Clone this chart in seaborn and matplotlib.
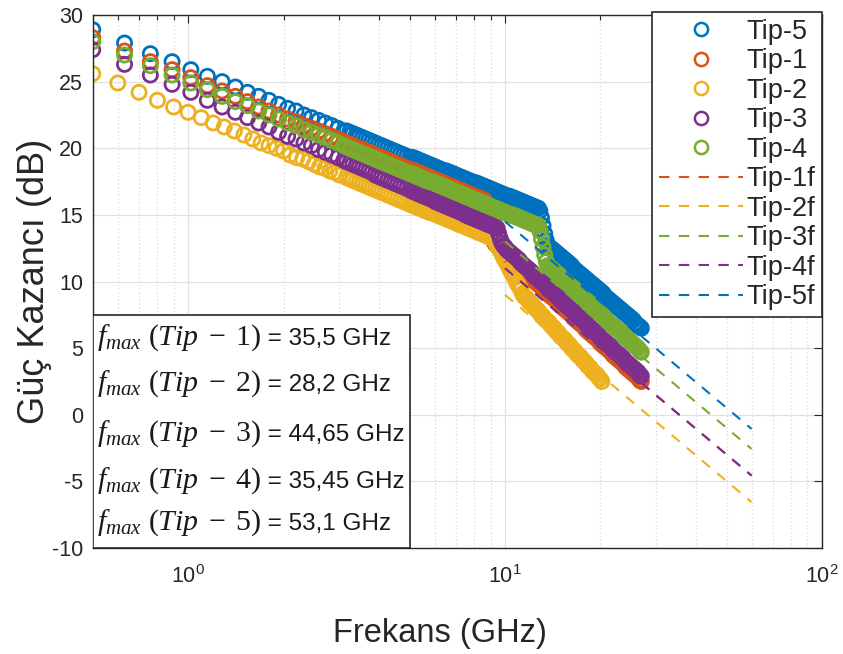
import numpy as np
import matplotlib
matplotlib.use("Agg")
import matplotlib.pyplot as plt
from matplotlib.lines import Line2D
from matplotlib.patches import Rectangle
from matplotlib.ticker import FixedLocator, FixedFormatter, NullFormatter
import seaborn as sns

# Frequency sweep (GHz)
freq_low = [0.50, 0.63, 0.76, 0.89, 1.02, 1.15, 1.28, 1.41, 1.54, 1.67, 1.80, 1.93, 2.06,
            2.19, 2.32, 2.45, 2.58, 2.71, 2.84, 2.97, 3.10]
freq_low_tip2 = [0.5, 0.6, 0.7, 0.8, 0.9, 1.0, 1.1, 1.2, 1.3, 1.4, 1.5, 1.6, 1.7, 1.8, 1.9,
                 2.0, 2.1, 2.2, 2.3, 2.4, 2.5, 2.6, 2.7, 2.8, 2.9, 3.0]
freq_mid = [3.162, 3.236, 3.311, 3.388, 3.467, 3.548, 3.631, 3.715, 3.802, 3.890,
            3.981, 4.074, 4.169, 4.266, 4.365, 4.467, 4.571, 4.677, 4.786, 4.898]
freq_high = [5.012, 5.070, 5.129, 5.188, 5.248, 5.309, 5.370, 5.433, 5.495, 5.559,
             5.623, 5.689, 5.754, 5.821, 5.888, 5.957, 6.026, 6.095, 6.166, 6.237,
             6.310, 6.383, 6.457, 6.531, 6.607, 6.683, 6.761, 6.839, 6.918, 6.998,
             7.079, 7.161, 7.244, 7.328, 7.413, 7.499, 7.586, 7.674, 7.762, 7.852,
             7.943, 8.035, 8.128, 8.222, 8.318, 8.414, 8.511, 8.610, 8.710, 8.810,
             8.913, 9.016, 9.120, 9.226, 9.333, 9.441, 9.550, 9.661, 9.772, 9.886,
             10.00, 10.12, 10.23, 10.35, 10.47, 10.59, 10.72, 10.84, 10.96, 11.09,
             11.22, 11.35, 11.48, 11.61, 11.75, 11.89, 12.02, 12.16, 12.30, 12.45,
             12.59, 12.74, 12.88, 13.03, 13.18, 13.34, 13.49, 13.65, 13.80, 13.96,
             14.13, 14.29, 14.45, 14.62, 14.79, 14.96, 15.14, 15.31, 15.49, 15.67,
             15.85, 16.03, 16.22, 16.41, 16.60, 16.79, 16.98, 17.18, 17.38, 17.58,
             17.78, 17.99, 18.20, 18.41, 18.62, 18.84, 19.05, 19.28, 19.50, 19.72,
             19.95, 20.18, 20.42, 20.65, 20.89, 21.13, 21.38, 21.63, 21.88, 22.13,
             22.39, 22.65, 22.91, 23.17, 23.44, 23.71, 23.99, 24.27, 24.55, 24.83,
             25.12, 25.41, 25.70, 26.00, 26.30, 26.61, 26.92]

freq = freq_low + freq_mid + freq_high
freq_tip2 = freq_low_tip2 + freq_mid + freq_high[:121] + [20.20]

# Power gain (dB)
gain_tip5 = [28.9, 27.9, 27.1, 26.5, 25.9, 25.4, 25.0, 24.6, 24.2, 23.9, 23.6, 23.3, 23.0,
             22.8, 22.5, 22.3, 22.1, 21.9, 21.7, 21.5, 21.3,
             21.3, 21.2, 21.1, 21.0, 20.9, 20.8, 20.7, 20.6, 20.5, 20.4,
             20.3, 20.2, 20.1, 20.0, 19.9, 19.8, 19.7, 19.6, 19.5, 19.4,
             19.3, 19.3, 19.3, 19.2, 19.2, 19.1, 19.1, 19.0, 19.0, 18.9,
             18.9, 18.8, 18.8, 18.7, 18.7, 18.6, 18.6, 18.5, 18.5, 18.4,
             18.4, 18.3, 18.3, 18.3, 18.2, 18.2, 18.1, 18.1, 18.0, 18.0,
             17.9, 17.9, 17.8, 17.8, 17.7, 17.7, 17.6, 17.6, 17.5, 17.5,
             17.4, 17.4, 17.4, 17.3, 17.3, 17.2, 17.2, 17.1, 17.1, 17.0,
             17.0, 16.9, 16.9, 16.8, 16.8, 16.7, 16.7, 16.6, 16.6, 16.5,
             16.5, 16.4, 16.4, 16.4, 16.3, 16.3, 16.2, 16.2, 16.1, 16.1,
             16.0, 16.0, 15.9, 15.9, 15.8, 15.8, 15.7, 15.7, 15.6, 15.6,
             15.5, 15.5, 15.3, 14.8, 14.2, 13.6, 13.1, 12.7, 12.6, 12.5,
             12.4, 12.3, 12.2, 12.1, 12.0, 11.9, 11.8, 11.7, 11.6, 11.5,
             11.4, 11.3, 11.2, 11.0, 10.9, 10.8, 10.7, 10.6, 10.5, 10.4,
             10.3, 10.2, 10.1, 10.0, 9.9, 9.8, 9.7, 9.6, 9.5, 9.4,
             9.3, 9.2, 9.1, 8.9, 8.8, 8.7, 8.6, 8.5, 8.4, 8.3,
             8.2, 8.1, 8.0, 7.9, 7.8, 7.7, 7.6, 7.5, 7.4, 7.3,
             7.2, 7.1, 6.9, 6.8, 6.7, 6.6, 6.5]

gain_tip1 = [28.3, 27.3, 26.5, 25.9, 25.3, 24.7, 24.3, 23.9, 23.5, 23.1, 22.8, 22.5, 22.2,
             22.0, 21.7, 21.5, 21.3, 21.1, 20.9, 20.7, 20.5,
             20.4, 20.3, 20.2, 20.1, 20.0, 19.9, 19.8, 19.7, 19.6, 19.5,
             19.4, 19.3, 19.2, 19.1, 19.0, 18.9, 18.8, 18.7, 18.6, 18.5,
             18.4, 18.4, 18.3, 18.3, 18.2, 18.2, 18.1, 18.1, 18.0, 18.0,
             17.9, 17.9, 17.8, 17.8, 17.7, 17.7, 17.6, 17.6, 17.5, 17.5,
             17.4, 17.4, 17.3, 17.3, 17.2, 17.2, 17.1, 17.1, 17.0, 17.0,
             16.9, 16.9, 16.8, 16.8, 16.7, 16.7, 16.6, 16.6, 16.5, 16.5,
             16.4, 16.4, 16.3, 16.3, 16.2, 16.2, 16.1, 16.1, 15.6, 15.0,
             14.4, 13.8, 13.3, 13.0, 12.8, 12.7, 12.6, 12.5, 12.4, 12.3,
             12.2, 12.0, 11.9, 11.8, 11.7, 11.6, 11.5, 11.4, 11.3, 11.2,
             11.0, 10.9, 10.8, 10.7, 10.6, 10.5, 10.4, 10.3, 10.1, 10.0,
             9.9, 9.8, 9.7, 9.6, 9.5, 9.4, 9.2, 9.1, 9.0, 8.9,
             8.8, 8.7, 8.6, 8.5, 8.4, 8.2, 8.1, 8.0, 7.9, 7.8,
             7.7, 7.6, 7.5, 7.3, 7.2, 7.1, 7.0, 6.9, 6.8, 6.7,
             6.6, 6.4, 6.3, 6.2, 6.1, 6.0, 5.9, 5.8, 5.7, 5.6,
             5.4, 5.3, 5.2, 5.1, 5.0, 4.9, 4.8, 4.7, 4.5, 4.4,
             4.3, 4.2, 4.1, 4.0, 3.9, 3.8, 3.6, 3.5, 3.4, 3.3,
             3.2, 3.1, 3.0, 2.9, 2.8, 2.6, 2.5]

gain_tip2 = [25.6, 24.9, 24.2, 23.6, 23.1, 22.7, 22.3, 21.9, 21.6, 21.3, 21.0, 20.7, 20.4,
             20.2, 20.0, 19.8, 19.5, 19.3, 19.2, 19.0, 18.8, 18.6, 18.5, 18.3, 18.2, 18.0,
             17.8, 17.7, 17.6, 17.5, 17.4, 17.3, 17.2, 17.1, 17.0, 16.9,
             16.8, 16.7, 16.6, 16.5, 16.4, 16.3, 16.2, 16.1, 16.0, 15.9,
             15.8, 15.8, 15.7, 15.7, 15.6, 15.6, 15.5, 15.5, 15.4, 15.4,
             15.3, 15.3, 15.2, 15.2, 15.2, 15.1, 15.1, 15.0, 15.0, 14.9,
             14.9, 14.8, 14.8, 14.7, 14.7, 14.6, 14.6, 14.5, 14.5, 14.4,
             14.4, 14.3, 14.3, 14.2, 14.2, 14.1, 14.1, 14.0, 14.0, 13.9,
             13.9, 13.8, 13.8, 13.7, 13.7, 13.6, 13.6, 13.5, 13.5, 13.4,
             13.4, 13.3, 13.3, 13.2, 13.0, 12.7, 12.5, 12.3, 12.1, 11.8,
             11.6, 11.4, 11.2, 10.9, 10.7, 10.5, 10.3, 10.0, 9.8, 9.6,
             9.4, 9.1, 8.9, 8.8, 8.7, 8.5, 8.4, 8.3, 8.2, 8.0,
             7.9, 7.8, 7.6, 7.5, 7.4, 7.2, 7.1, 7.0, 6.9, 6.7,
             6.6, 6.5, 6.3, 6.2, 6.1, 5.9, 5.8, 5.7, 5.6, 5.4,
             5.3, 5.2, 5.0, 4.9, 4.8, 4.6, 4.5, 4.4, 4.3, 4.1,
             4.0, 3.9, 3.7, 3.6, 3.5, 3.3, 3.2, 3.1, 3.0, 2.8,
             2.7, 2.5]

gain_tip3 = [27.4, 26.3, 25.5, 24.8, 24.2, 23.6, 23.1, 22.7, 22.3, 21.9, 21.6, 21.2, 20.9,
             20.7, 20.4, 20.2, 19.9, 19.7, 19.5, 19.3, 19.1,
             19.0, 18.9, 18.8, 18.7, 18.6, 18.5, 18.4, 18.3, 18.2, 18.0,
             17.9, 17.8, 17.7, 17.6, 17.5, 17.4, 17.3, 17.2, 17.1, 17.0,
             16.9, 16.8, 16.8, 16.7, 16.7, 16.6, 16.6, 16.5, 16.5, 16.4,
             16.4, 16.3, 16.3, 16.2, 16.2, 16.1, 16.0, 16.0, 15.9, 15.9,
             15.8, 15.8, 15.7, 15.7, 15.6, 15.6, 15.5, 15.5, 15.4, 15.4,
             15.3, 15.3, 15.2, 15.2, 15.1, 15.0, 15.0, 14.9, 14.9, 14.8,
             14.8, 14.7, 14.7, 14.6, 14.6, 14.5, 14.5, 14.4, 14.4, 14.3,
             14.3, 14.2, 14.2, 14.1, 14.1, 14.0, 13.6, 13.2, 12.9, 12.7,
             12.6, 12.4, 12.3, 12.2, 12.1, 12.0, 11.9, 11.8, 11.7, 11.6,
             11.4, 11.3, 11.2, 11.1, 11.0, 10.9, 10.8, 10.7, 10.5, 10.4,
             10.3, 10.2, 10.1, 10.0, 9.9, 9.8, 9.7, 9.5, 9.4, 9.3,
             9.2, 9.1, 9.0, 8.9, 8.8, 8.6, 8.5, 8.4, 8.3, 8.2,
             8.1, 8.0, 7.9, 7.8, 7.6, 7.5, 7.4, 7.3, 7.2, 7.1,
             7.0, 6.9, 6.7, 6.6, 6.5, 6.4, 6.3, 6.2, 6.1, 6.0,
             5.8, 5.7, 5.6, 5.5, 5.4, 5.3, 5.2, 5.1, 4.9, 4.8,
             4.7, 4.6, 4.5, 4.4, 4.3, 4.2, 4.0, 3.9, 3.8, 3.7,
             3.6, 3.5, 3.4, 3.3, 3.2, 3.0, 2.9]

gain_tip4 = [28.0, 27.0, 26.2, 25.5, 24.9, 24.4, 23.9, 23.5, 23.2, 22.8, 22.5, 22.2, 21.9,
             21.7, 21.4, 21.2, 21.0, 20.8, 20.6, 20.4, 20.2,
             20.1, 20.0, 19.9, 19.8, 19.7, 19.6, 19.5, 19.4, 19.3, 19.2,
             19.1, 19.0, 18.9, 18.8, 18.7, 18.6, 18.5, 18.4, 18.3, 18.2,
             18.1, 18.1, 18.0, 18.0, 17.9, 17.9, 17.8, 17.8, 17.7, 17.7,
             17.6, 17.6, 17.5, 17.5, 17.5, 17.4, 17.4, 17.3, 17.3, 17.2,
             17.2, 17.1, 17.1, 17.0, 17.0, 16.9, 16.9, 16.8, 16.8, 16.7,
             16.7, 16.6, 16.6, 16.5, 16.5, 16.4, 16.4, 16.3, 16.3, 16.2,
             16.2, 16.1, 16.1, 16.0, 16.0, 15.9, 15.9, 15.8, 15.8, 15.7,
             15.7, 15.6, 15.6, 15.5, 15.5, 15.4, 15.4, 15.3, 15.3, 15.2,
             15.2, 15.1, 15.1, 15.0, 15.0, 15.0, 14.9, 14.9, 14.8, 14.8,
             14.7, 14.7, 14.6, 14.6, 14.5, 14.5, 14.4, 14.4, 14.3, 14.3,
             14.2, 14.2, 13.8, 13.2, 12.6, 12.0, 11.5, 11.2, 11.1, 11.0,
             10.9, 10.8, 10.7, 10.6, 10.5, 10.3, 10.2, 10.1, 10.0, 9.9,
             9.8, 9.7, 9.6, 9.5, 9.4, 9.2, 9.1, 9.0, 8.9, 8.8,
             8.7, 8.6, 8.5, 8.4, 8.3, 8.1, 8.0, 7.9, 7.8, 7.7,
             7.6, 7.5, 7.4, 7.3, 7.2, 7.0, 6.9, 6.8, 6.7, 6.6,
             6.5, 6.4, 6.3, 6.2, 6.1, 5.9, 5.8, 5.7, 5.6, 5.5,
             5.4, 5.3, 5.2, 5.1, 5.0, 4.8, 4.7]

# Maximum oscillation frequencies (GHz) used for the -20 dB/dec fits
fit_labels = ["Tip-1f", "Tip-2f", "Tip-3f", "Tip-4f", "Tip-5f"]
fmax_names = ["Tip-1", "Tip-2", "Tip-3", "Tip-4", "Tip-5"]
fmax_values = [35.5, 28.2, 44.65, 35.45, 53.1]
fmax_text = ["35,5", "28,2", "44,65", "35,45", "53,1"]
fit_freq = [10.0, 60.0]

BLUE, RED, YELLOW, PURPLE, GREEN = "#0072BD", "#D95319", "#EDB120", "#7E2F8E", "#77AC30"
INK = "#262626"

sns.set_style("white")
plt.rcParams["font.family"] = ["Liberation Sans", "DejaVu Sans"]
plt.rcParams["axes.unicode_minus"] = False
plt.rcParams["mathtext.fontset"] = "custom"
plt.rcParams["mathtext.it"] = "Liberation Serif:italic"
plt.rcParams["mathtext.rm"] = "Liberation Serif"
plt.rcParams["mathtext.sf"] = "Liberation Sans"

fig = plt.figure(figsize=(8.43, 6.54), dpi=100)
ax = fig.add_axes([0.110, 0.162, 0.865, 0.815])

measured = [
    ("Tip-5", freq, gain_tip5, BLUE),
    ("Tip-1", freq, gain_tip1, RED),
    ("Tip-2", freq_tip2, gain_tip2, YELLOW),
    ("Tip-3", freq, gain_tip3, PURPLE),
    ("Tip-4", freq, gain_tip4, GREEN),
]

MS, MEW = 10.2, 2.0
handles = []
for i, (name, f, g, col) in enumerate(measured):
    sns.scatterplot(x=f, y=g, ax=ax, marker="o", s=MS ** 2, linewidth=MEW,
                    color=col, legend=False, zorder=2 + i * 0.1)
    coll = ax.collections[-1]
    coll.set_facecolor("none")
    coll.set_edgecolor(col)
    coll.set_linewidth(MEW)
    handles.append(Line2D([], [], marker="o", ls="none", mfc="none", mec=col,
                          ms=9.5, mew=1.8, label=name))

DASH = (0, (5, 4.5))
fit_colors = [RED, YELLOW, GREEN, PURPLE, BLUE]
for lab, fm, col in zip(fit_labels, fmax_values, fit_colors):
    g_fit = [20 * np.log10(fm / f) for f in fit_freq]
    sns.lineplot(x=fit_freq, y=g_fit, ax=ax, color=col, lw=1.5, zorder=3,
                 legend=False)
    ax.lines[-1].set_linestyle(DASH)
    handles.append(Line2D([], [], color=col, lw=1.5, ls=DASH, label=lab))

ax.set_xscale("log")
ax.set_xlim(0.5, 100)
ax.set_ylim(-10, 30)
ax.set_yticks(np.arange(-10, 31, 5))
ax.xaxis.set_major_locator(FixedLocator([1, 10, 100]))
ax.xaxis.set_major_formatter(FixedFormatter([r"$\mathsf{10^{0}}$", r"$\mathsf{10^{1}}$",
                                             r"$\mathsf{10^{2}}$"]))
minor = [m * d for d in (0.1, 1, 10) for m in range(2, 10) if 0.5 <= m * d <= 100]
ax.xaxis.set_minor_locator(FixedLocator(minor))
ax.xaxis.set_minor_formatter(NullFormatter())

ax.grid(True, which="major", color="#e0e0e0", lw=0.9, zorder=0)
ax.xaxis.grid(True, which="minor", color="#d8d8d8", lw=0.9, ls=(0, (1, 2)), zorder=0)
ax.set_axisbelow(True)

ax.tick_params(which="both", direction="in", top=True, right=True, colors=INK,
               width=0.8, labelsize=15.5, labelcolor=INK)
ax.tick_params(which="major", length=6)
ax.tick_params(which="minor", length=3.5)
ax.tick_params(axis="x", pad=12)
ax.tick_params(axis="y", pad=7)
for sp in ax.spines.values():
    sp.set_color(INK)
    sp.set_linewidth(1.0)

ax.set_xlabel("Frekans (GHz)", fontsize=23.5, color=INK)
ax.xaxis.set_label_coords(0.476, -0.131)
ax.set_ylabel("Güç Kazancı (dB)", fontsize=26, color=INK, labelpad=0)

leg = ax.legend(handles=handles, loc="upper right", bbox_to_anchor=(1.0, 1.006),
                fontsize=19.5, frameon=True, fancybox=False, framealpha=1,
                edgecolor=INK, borderpad=0.25, labelspacing=0.13,
                handlelength=3.1, handletextpad=0.12, borderaxespad=0)
leg.get_frame().set_linewidth(1.2)
leg.set_zorder(10)

# f_max annotation box in the lower-left corner
box = Rectangle((0, 0), 0.435, 0.437, transform=ax.transAxes, facecolor="white",
                edgecolor=INK, lw=1.2, zorder=8)
ax.add_patch(box)
baselines = [0.381, 0.295, 0.201, 0.113, 0.034]
for nm, val, yb in zip(fmax_names, fmax_text, baselines):
    num = nm.split("-")[1]
    t_math = ax.text(0.006, yb, r"$f_{max}\ (Tip\;-\;%s)$" % num,
                     transform=ax.transAxes, fontsize=21.5, va="baseline", ha="left",
                     color="#1a1a1a", zorder=9)
    ax.annotate(" = %s GHz" % val, xy=(1.0, yb), xycoords=(t_math, ax.transAxes),
                fontsize=17.5, va="baseline", ha="left", color="#1a1a1a", zorder=9)

fig.savefig("out.png", dpi=100)
